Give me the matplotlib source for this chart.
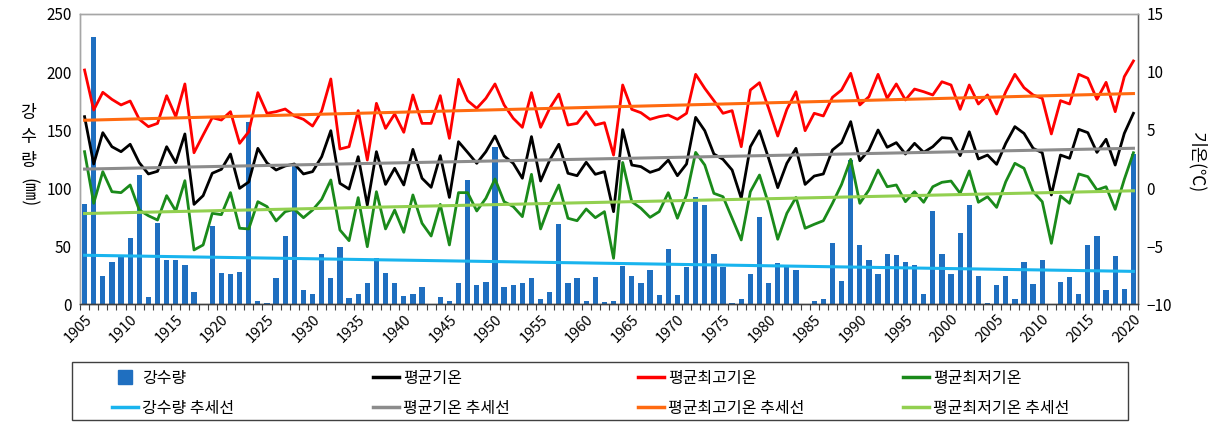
import numpy as np
import matplotlib
matplotlib.use("Agg")
import matplotlib.pyplot as plt
from matplotlib.lines import Line2D
from matplotlib.patches import Rectangle

plt.rcParams['font.family'] = ['Noto Sans CJK KR', 'DejaVu Sans']

years = list(range(1905, 2021))

# 강수량 (mm)
rain = [86, 230, 24, 36, 42, 57, 111, 6, 70, 38,
        38, 34, 10, 0, 67, 27, 26, 28, 157, 3,
        1, 22, 59, 119, 12, 9, 43, 22, 49, 5,
        9, 18, 40, 27, 18, 7, 9, 15, 0, 6,
        3, 18, 107, 16, 19, 135, 15, 16, 18, 22,
        4, 10, 69, 18, 22, 3, 23, 2, 3, 33,
        24, 18, 29, 8, 47, 8, 32, 92, 85, 43,
        32, 1, 4, 26, 75, 18, 35, 32, 29, 0,
        3, 4, 53, 20, 124, 51, 38, 26, 43, 42,
        36, 34, 9, 80, 43, 26, 61, 85, 24, 1,
        16, 24, 4, 36, 17, 38, 0, 19, 23, 9,
        51, 59, 12, 41, 13, 129]

# 평균기온 (℃)
t_mean = [6.15, 2.07, 4.77, 3.56, 3.13, 3.77, 2.18, 1.21, 1.44, 3.56,
          2.18, 4.66, -1.41, -0.66, 1.27, 1.61, 2.93, -0.03, 0.52, 3.42,
          2.16, 1.55, 1.9, 2.07, 1.21, 1.41, 2.7, 4.94, 0.4, -0.09,
          2.7, -1.47, 3.13, 0.31, 1.7, 0.26, 3.33, 0.84, 0.06, 2.79,
          -0.81, 3.99, 3.07, 2.13, 3.13, 4.48, 2.76, 2.13, 0.84, 4.43,
          0.6, 2.41, 3.77, 1.27, 1.06, 2.22, 1.18, 1.41, -2.04, 5.03,
          1.98, 1.84, 1.35, 1.61, 2.41, 1.06, 2.07, 6.09, 4.94, 2.93,
          2.47, 1.55, -0.89, 3.56, 4.94, 2.56, 0.03, 2.13, 3.42, 0.31,
          1.03, 1.21, 3.28, 3.91, 5.72, 2.35, 3.28, 5.0, 3.51, 3.91,
          2.93, 3.85, 3.07, 3.56, 4.34, 4.28, 2.79, 4.85, 2.5, 2.84,
          2.04, 3.85, 5.29, 4.71, 3.42, 3.04, -0.6, 2.84, 2.56, 5.06,
          4.77, 3.07, 4.2, 1.98, 4.71, 6.44]

# 평균최고기온 (℃)
t_max = [10.17, 6.72, 8.25, 7.64, 7.16, 7.5, 5.92, 5.29, 5.57, 7.96,
         6.15, 8.97, 3.04, 4.57, 6.06, 5.86, 6.58, 3.85, 4.85, 8.22,
         6.44, 6.58, 6.81, 6.21, 5.92, 5.34, 6.64, 9.4, 3.36, 3.56,
         6.67, 2.41, 7.3, 5.14, 6.38, 4.8, 8.02, 5.57, 5.57, 7.96,
         4.28, 9.37, 7.53, 6.87, 7.73, 8.97, 7.16, 6.01, 5.23, 8.22,
         5.23, 6.87, 8.1, 5.43, 5.57, 6.58, 5.43, 5.63, 2.84, 8.88,
         6.78, 6.49, 5.92, 6.15, 6.29, 5.92, 6.44, 9.8, 8.59, 7.53,
         6.44, 6.67, 3.56, 8.45, 9.08, 6.87, 4.48, 6.78, 8.3, 4.94,
         6.44, 6.21, 7.82, 8.45, 9.89, 7.16, 7.87, 9.8, 7.73, 8.97,
         7.59, 8.53, 8.3, 8.02, 9.16, 8.88, 6.78, 8.88, 7.24, 8.02,
         6.38, 8.3, 9.8, 8.65, 8.02, 7.73, 4.66, 7.53, 7.24, 9.8,
         9.46, 7.64, 9.11, 6.58, 9.6, 10.95]

# 평균최저기온 (℃)
t_min = [3.13, -1.32, 1.41, -0.32, -0.4, 0.26, -1.9, -2.39, -2.76, -0.66,
         -1.98, 0.63, -5.34, -4.91, -2.18, -2.3, -0.4, -3.47, -3.53, -1.18,
         -1.6, -2.84, -2.04, -1.84, -2.56, -1.9, -0.98, 0.69, -3.62, -4.54,
         -0.83, -5.06, -0.32, -3.53, -1.9, -3.82, -0.6, -3.04, -4.14, -1.41,
         -4.91, -0.4, -0.4, -1.98, -0.89, 0.78, -1.18, -1.6, -2.47, 1.18,
         -3.53, -1.41, 0.26, -2.61, -2.82, -1.81, -2.56, -2.04, -6.06, 2.2,
         -1.18, -1.75, -2.53, -2.04, -0.4, -2.61, -0.6, 3.07, 1.98, -0.46,
         -0.75, -2.61, -4.48, -0.32, 1.12, -1.38, -4.42, -2.18, -0.81, -3.47,
         -3.13, -2.82, -1.32, 0.31, 2.47, -1.32, -0.17, 1.55, 0.11, 0.26,
         -1.18, -0.32, -1.23, 0.11, 0.49, 0.6, -0.46, 1.47, -1.23, -0.75,
         -1.67, 0.54, 2.13, 1.7, -0.32, -1.18, -4.77, -0.69, -1.32, 1.21,
         0.98, -0.17, 0.11, -1.84, 0.75, 3.04]

tick_years = list(range(1905, 2021, 5))

c_rain = '#1f6fc0'
c_mean = '#000000'
c_max = '#ff0000'
c_min = '#1a8a1a'
c_rain_tr = '#19b4ee'
c_mean_tr = '#8c8c8c'
c_max_tr = '#ff6a10'
c_min_tr = '#92d050'

x = np.arange(len(years))


def trend(v):
    k, b = np.polyfit(x, v, 1)
    return k * x + b


fig = plt.figure(figsize=(12.13, 4.23), dpi=100)
ax = fig.add_axes([80 / 1213, 1 - 304 / 423, (1138 - 80) / 1213, 290 / 423])
ax2 = ax.twinx()

ax.bar(x, rain, width=0.58, color=c_rain, zorder=2)
ax.plot(x, trend(rain), color=c_rain_tr, lw=2.2, zorder=3)

ax2.plot(x, t_mean, color=c_mean, lw=2.0)
ax2.plot(x, t_max, color=c_max, lw=2.0)
ax2.plot(x, t_min, color=c_min, lw=2.0)
ax2.plot(x, trend(t_mean), color=c_mean_tr, lw=2.2)
ax2.plot(x, trend(t_max), color=c_max_tr, lw=2.2)
ax2.plot(x, trend(t_min), color=c_min_tr, lw=2.2)

ax.set_xlim(-0.5, len(years) - 0.5)
ax.set_ylim(0, 250)
ax.set_yticks(range(0, 251, 50))
ax2.set_ylim(-10, 15)
ax2.set_yticks(range(-10, 16, 5))

ax.set_xticks([years.index(t) for t in tick_years])
ax.set_xticklabels([str(t) for t in tick_years], rotation=45, ha='right',
                   va='top', rotation_mode='anchor')
ax.set_xticks(np.arange(-0.5, len(years), 1), minor=True)
ax.tick_params(axis='x', which='major', length=0, pad=6, labelsize=10.5)
ax.tick_params(axis='x', which='minor', length=4, color='#404040', width=0.8)
ax.tick_params(axis='y', length=0, labelsize=11, pad=6)
ax2.tick_params(axis='y', length=0, labelsize=11, pad=6)

for a in (ax, ax2):
    for s in ('top', 'left', 'right'):
        a.spines[s].set_color('#a6a6a6')
        a.spines[s].set_linewidth(1.0)
    a.spines['bottom'].set_color('#404040')
    a.spines['bottom'].set_linewidth(1.0)
ax2.spines['right'].set_color('#606060')

ax.set_zorder(ax2.get_zorder() - 1)
ax2.patch.set_visible(False)

# 축 제목
for ch, yy in zip(['강', '수', '량'], [113, 137, 161]):
    fig.text(28 / 1213, 1 - yy / 423, ch, fontsize=12.5, ha='center', va='center')
fig.text(28 / 1213, 1 - 193 / 423, '(㎜)', fontsize=12.5, rotation=-90,
         ha='center', va='center')
fig.text(1197 / 1213, 1 - 163 / 423, '기온(℃)', fontsize=12.5, rotation=-90,
         ha='center', va='center')

# 범례
fig.add_artist(Rectangle((72 / 1213, 1 - 420 / 423), 1056 / 1213, 58 / 423,
                         transform=fig.transFigure, fill=False,
                         edgecolor='#404040', lw=1.0))

groups = [
    ('강수량', c_rain, '강수량 추세선', c_rain_tr, 112),
    ('평균기온', c_mean, '평균기온 추세선', c_mean_tr, 373),
    ('평균최고기온', c_max, '평균최고기온 추세선', c_max_tr, 638),
    ('평균최저기온', c_min, '평균최저기온 추세선', c_min_tr, 903),
]
for i, (l1, col1, l2, col2, xs) in enumerate(groups):
    if i == 0:
        h1 = Line2D([], [], marker='s', ls='none', color=col1, markersize=10)
    else:
        h1 = Line2D([], [], color=col1, lw=2.5)
    h2 = Line2D([], [], color=col2, lw=2.5)
    fig.legend([h1, h2], [l1, l2], loc='upper left',
               bbox_to_anchor=(xs / 1213, 1 - 370 / 423), frameon=False,
               borderpad=0, borderaxespad=0, handlelength=1.6,
               handletextpad=0.3, labelspacing=0.8, fontsize=11.5)

fig.savefig('out.png', dpi=100)
